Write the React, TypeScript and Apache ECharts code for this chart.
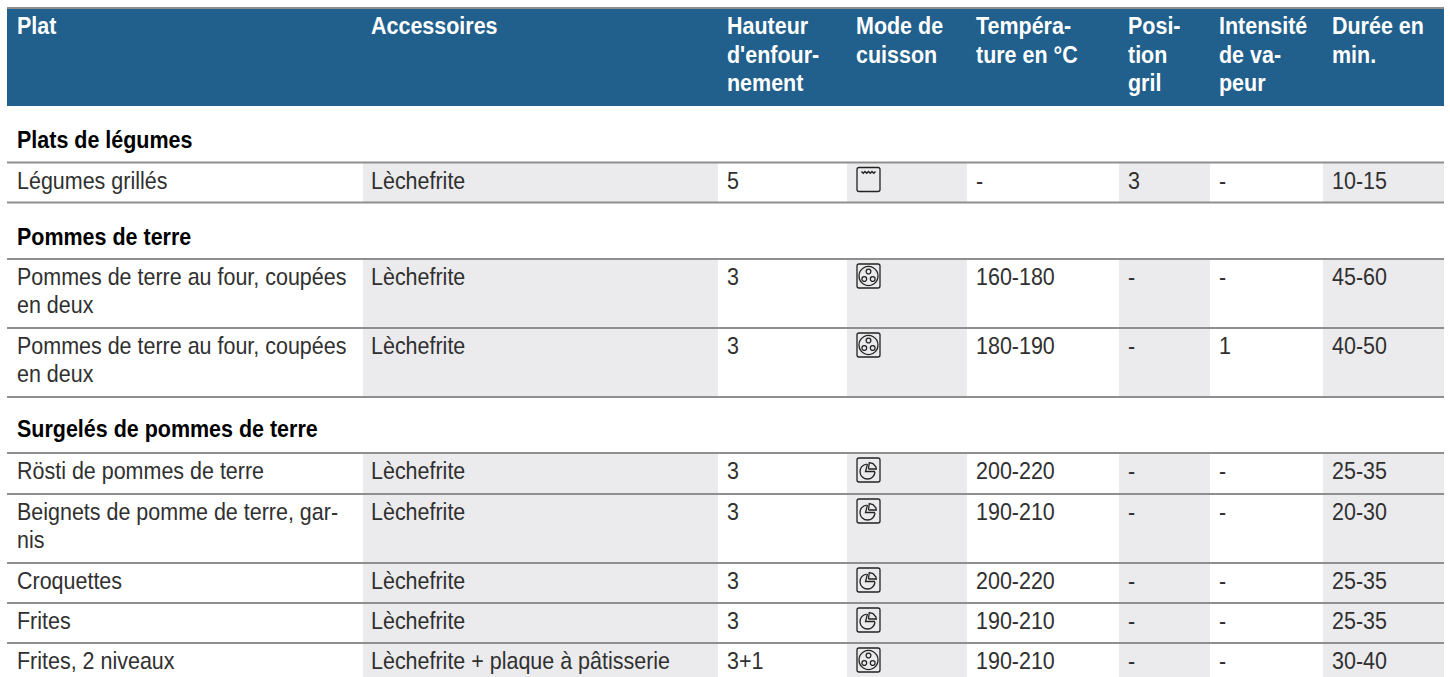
import React, { useEffect, useRef } from "react";
import * as echarts from "echarts";

const headers = ["Plat", "Accessoires", "Hauteur\nd'enfour-\nnement", "Mode de\ncuisson", "Tempéra-\nture en °C", "Posi-\ntion\ngril", "Intensité\nde va-\npeur", "Durée en\nmin."];
const sections = ["Plats de légumes", "Pommes de terre", "Surgelés de pommes de terre"];
const plats = ["Légumes grillés", "Pommes de terre au four, coupées\nen deux", "Pommes de terre au four, coupées\nen deux", "Rösti de pommes de terre", "Beignets de pomme de terre, gar-\nnis", "Croquettes", "Frites", "Frites, 2 niveaux"];
const accessoires = ["Lèchefrite", "Lèchefrite", "Lèchefrite", "Lèchefrite", "Lèchefrite", "Lèchefrite", "Lèchefrite", "Lèchefrite + plaque à pâtisserie"];
const hauteurs = ["5", "3", "3", "3", "3", "3", "3", "3+1"];
const modes = ["grill", "fan", "fan", "pizza", "pizza", "pizza", "pizza", "fan"];
const temperatures = ["-", "160-180", "180-190", "200-220", "190-210", "200-220", "190-210", "190-210"];
const positions = ["3", "-", "-", "-", "-", "-", "-", "-"];
const intensites = ["-", "-", "1", "-", "-", "-", "-", "-"];
const durees = ["10-15", "45-60", "40-50", "25-35", "20-30", "25-35", "25-35", "30-40"];

// layout (pixels)
const W = 1450, H = 677;
const colX = [7, 363, 718, 847, 967, 1119, 1210, 1323, 1444];
const colPad = [10, 8, 9, 9, 9, 9, 9, 9];
const headerTop = 9, headerBottom = 106, topLine = 8;
const sectionBaselines = [148, 245, 437];
const rowLines = [162.5, 259, 328, 453, 494, 563, 603, 643];
const rowBottoms = [202.5, 328, 397, 494, 563, 603, 643, 677];
const closingLines = [202.5, 397];
const bodyPitch = 28, headPitch = 28.5, firstBaseline = 26, headBaseline = 34;
const fontSize = 24, scale = 0.895;
const lineColor = "#8f8f8f", headerColor = "#215f8c", grayCell = "#ebebed", ink = "#303030";
const FONT = '"Liberation Sans"';

type Cell = { kind: string; x0: number; x1: number; y0: number; y1: number; text?: string };
const cells: Cell[] = [];
cells.push({ kind: "rect", x0: colX[0], x1: colX[8], y0: headerTop, y1: headerBottom, text: headerColor });
const columns = [plats, accessoires, hauteurs, modes, temperatures, positions, intensites, durees];
rowLines.forEach((t, r) => {
  [1, 3, 5, 7].forEach((c) => cells.push({ kind: "rect", x0: colX[c], x1: colX[c + 1], y0: t, y1: rowBottoms[r], text: grayCell }));
});
[topLine, ...rowLines, ...closingLines].forEach((t) => cells.push({ kind: "line", x0: colX[0], x1: colX[8], y0: t, y1: t, text: lineColor }));
headers.forEach((h, c) => cells.push({ kind: "head", x0: colX[c] + colPad[c], x1: 0, y0: headBaseline, y1: 0, text: h }));
sections.forEach((s, i) => cells.push({ kind: "section", x0: colX[0] + colPad[0], x1: 0, y0: sectionBaselines[i], y1: 0, text: s }));
columns.forEach((col, c) => {
  col.forEach((v, r) => {
    if (col === modes) cells.push({ kind: v, x0: 857, x1: 0, y0: rowLines[r] + 5, y1: 0 });
    else cells.push({ kind: "body", x0: colX[c] + colPad[c], x1: 0, y0: rowLines[r] + firstBaseline, y1: 0, text: v });
  });
});

function textEl(x: number, y: number, text: string, fill: string, weight: string) {
  return {
    type: "text", x, y: y - fontSize * 0.35, scaleX: scale, silent: true,
    style: { x: 0, y: 0, text, fill, font: `${weight} ${fontSize}px ${FONT}`, verticalAlign: "middle", align: "left" },
  };
}

function icon(kind: string, x: number, y: number) {
  const stroke = { stroke: "#222", fill: "none", lineWidth: 1.3 };
  const kids: any[] = [{ type: "rect", shape: { x, y, width: 23, height: 24, r: 2 }, style: stroke }];
  if (kind === "grill") {
    const pts: number[][] = [];
    for (let i = 0; i < 9; i++) pts.push([x + 4.5 + i * 1.75, y + 4 + (i % 2) * 1.8]);
    kids.push({ type: "polyline", shape: { points: pts }, style: { stroke: "#222", fill: "none", lineWidth: 1.4 } });
  } else if (kind === "fan") {
    const cx = x + 11.5, cy = y + 12;
    kids.push({ type: "circle", shape: { cx, cy, r: 9.5 }, style: stroke });
    [[0, -4.5], [-4.2, 3], [4.2, 3]].forEach(([dx, dy]) => kids.push({ type: "circle", shape: { cx: cx + dx, cy: cy + dy, r: 2.4 }, style: stroke }));
  } else {
    const cx = x + 10.5, cy = y + 13.5;
    kids.push({ type: "arc", shape: { cx, cy, r: 7.5, startAngle: 0.05, endAngle: 4.6, clockwise: true }, style: stroke });
    kids.push({ type: "polyline", shape: { points: [[cx, cy - 7.5], [cx - 2, cy], [cx + 7.5, cy]] }, style: stroke });
    kids.push({ type: "polyline", shape: { points: [[cx + 1, cy - 2.5], [cx + 1.8, cy - 9], [cx + 5.5, cy - 8], [cx + 8.5, cy - 4.5], [cx + 8.8, cy - 2.5], [cx + 1, cy - 2.5]] }, style: stroke });
  }
  return { type: "group", children: kids };
}

export default function App() {
  const ref = useRef<HTMLDivElement>(null);
  useEffect(() => {
    document.body.style.margin = "0";
    document.body.style.overflow = "hidden";
    const chart = echarts.init(ref.current!, undefined, { renderer: "svg" });
    chart.setOption({
      animation: false,
      backgroundColor: "#ffffff",
      grid: { left: 0, right: 0, top: 0, bottom: 0 },
      xAxis: { type: "value", min: 0, max: W, show: false },
      yAxis: { type: "value", min: 0, max: H, inverse: true, show: false },
      tooltip: { show: false },
      series: [{
        type: "custom",
        silent: true,
        clip: false,
        coordinateSystem: "cartesian2d",
        data: cells.map((c, i) => [c.x0, c.y0, i]),
        renderItem: (params: any, api: any) => {
          const c = cells[params.dataIndex];
          const [x0, y0] = api.coord([c.x0, c.y0]);
          if (c.kind === "rect") {
            const [x1, y1] = api.coord([c.x1, c.y1]);
            return { type: "rect", shape: { x: x0, y: y0, width: x1 - x0, height: y1 - y0 }, style: { fill: c.text } };
          }
          if (c.kind === "line") {
            const [x1] = api.coord([c.x1, c.y1]);
            return { type: "rect", shape: { x: x0, y: y0 - 1, width: x1 - x0, height: 2 }, style: { fill: c.text } };
          }
          if (c.kind === "head" || c.kind === "body") {
            const head = c.kind === "head";
            const pitch = head ? headPitch : bodyPitch;
            return {
              type: "group",
              children: (c.text as string).split("\n").map((t, i) => textEl(x0, y0 + i * pitch, t, head ? "#ffffff" : ink, head ? "bold" : "normal")),
            };
          }
          if (c.kind === "section") return textEl(x0, y0, c.text as string, "#000", "bold");
          return icon(c.kind, x0, y0);
        },
      }],
    });
    return () => chart.dispose();
  }, []);
  return <div ref={ref} style={{ width: W, height: H }} />;
}
